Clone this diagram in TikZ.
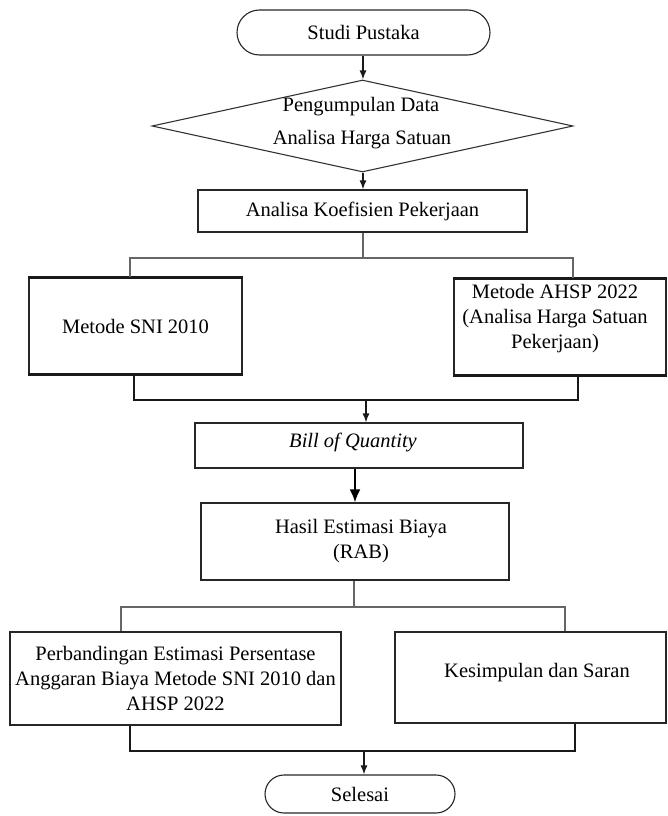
\documentclass[tikz,border=0pt]{standalone}
\usepackage{fontspec}
\setmainfont{Liberation Serif}
\usetikzlibrary{shapes.geometric,arrows.meta}
\begin{document}
\begin{tikzpicture}[x=1pt,y=-1pt,
  txt/.style={font=\fontsize{20.5}{25}\selectfont, align=center, inner sep=0pt},
  boxn/.style={draw=black!85, line width=1.1pt, inner sep=0pt, font=\fontsize{20.5}{25}\selectfont, align=center},
  term/.style={boxn},
  conn/.style={draw=black!60, line width=1.1pt},
  conndark/.style={draw=black!90, line width=1.4pt},
  arr/.style={draw=black!90, line width=1.4pt, -{Latex[length=9pt,width=7pt]}},
  arrthick/.style={draw=black, line width=2.2pt, -{Latex[length=13pt,width=11pt]}},
  thickedge/.style={draw=black!90, line width=2.6pt}
]
\useasboundingbox (0,0) rectangle (667,816);

% nodes
\node[term, minimum width=253pt, minimum height=45pt, rounded corners=22.5pt] (studi) at (363.5,32.5) {Studi Pustaka};
\node[draw=black!80, line width=1.1pt, diamond, minimum width=421pt, minimum height=92pt, inner sep=0pt] (data) at (362.5,126) {};
\node[txt] (datat1) at (361,107) {Pengumpulan Data};
\node[txt] (datat2) at (362,140) {Analisa Harga Satuan};
\node[boxn, minimum width=329pt, minimum height=42pt] (koef) at (362.5,211) {Analisa Koefisien Pekerjaan};
\node[boxn, minimum width=213pt, minimum height=96pt] (sni) at (135.5,326) {Metode SNI 2010};
\node[boxn, minimum width=212pt, minimum height=96pt] (ahsp) at (560,327) {};
\node[txt] (ahspt) at (555,319) {Metode AHSP 2022\\(Analisa Harga Satuan\\Pekerjaan)};
\node[boxn, minimum width=328pt, minimum height=45pt] (bill) at (359,445.5) {};
\node[txt] (billt) at (353,442) {\itshape Bill of Quantity};
\node[boxn, minimum width=308pt, minimum height=77pt] (hasil) at (355,541.5) {};
\node[txt] (hasilt) at (361,541.5) {Hasil Estimasi Biaya\\(RAB)};
\node[boxn, minimum width=331pt, minimum height=93pt] (perb) at (175.5,678.5) {Perbandingan Estimasi Persentase\\Anggaran Biaya Metode SNI 2010 dan\\AHSP 2022};
\node[boxn, minimum width=271pt, minimum height=91pt] (kes) at (530.5,677.5) {};
\node[txt] (kest) at (537,673) {Kesimpulan dan Saran};
\node[term, minimum width=190pt, minimum height=38pt, rounded corners=19pt] (selesai) at (360,794) {Selesai};

% thick top/bottom edges
\draw[thickedge] (sni.north west) -- (sni.north east);
\draw[thickedge] (sni.south west) -- (sni.south east);
\draw[thickedge] (ahsp.north west) -- (ahsp.north east);
\draw[thickedge] (ahsp.south west) -- (ahsp.south east);

% coordinates
\coordinate (c1) at (363,0);
\coordinate (b1) at (363,258);
\coordinate (sniin) at (130,258);
\coordinate (ahspin) at (573,258);
\coordinate (sniout) at (134,400);
\coordinate (ahspout) at (578,400);
\coordinate (m1) at (366,400);
\coordinate (c2) at (355,0);
\coordinate (b2) at (354,607);
\coordinate (perbin) at (121,607);
\coordinate (kesin) at (565,607);
\coordinate (perbout) at (130,751);
\coordinate (kesout) at (575,751);
\coordinate (m2) at (364,751);

% connectors
\draw[arr] (studi.south -| c1) -- (data.north -| c1);
\draw[arr] (data.south -| c1) -- (koef.north -| c1);
\draw[conn] (koef.south -| b1) -- (b1);
\draw[conn] (sni.north -| sniin) -- (sniin) -- (ahspin) -- (ahsp.north -| ahspin);
\draw[conndark] (sni.south -| sniout) -- (sniout) -- (ahspout) -- (ahsp.south -| ahspout);
\draw[arr] (m1) -- (bill.north -| m1);
\draw[arrthick] (bill.south -| c2) -- (hasil.north -| c2);
\draw[conn] (hasil.south -| b2) -- (b2);
\draw[conn] (perb.north -| perbin) -- (perbin) -- (kesin) -- (kes.north -| kesin);
\draw[conndark] (perb.south -| perbout) -- (perbout) -- (kesout) -- (kes.south -| kesout);
\draw[arr] (m2) -- (selesai.north -| m2);
\end{tikzpicture}
\end{document}
